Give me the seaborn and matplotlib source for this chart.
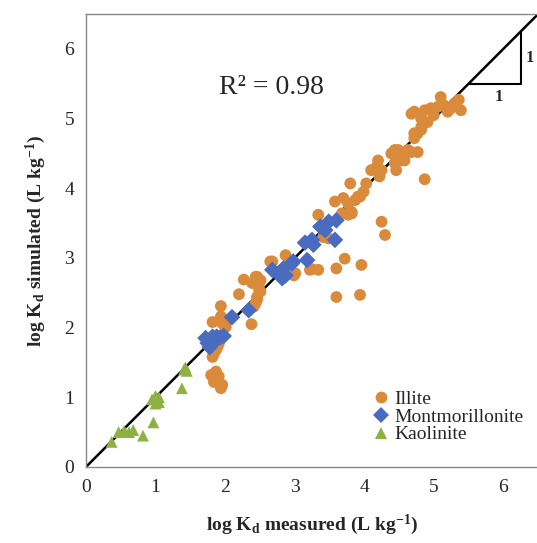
import numpy as np
import pandas as pd
import matplotlib
matplotlib.use("Agg")
import matplotlib.pyplot as plt
import seaborn as sns

# Illite (circles)
illite_x = [1.82, 1.87, 1.84, 1.94, 1.80, 1.96, 1.91, 1.82, 1.87, 1.91, 1.84, 1.89,
            1.82, 1.94, 1.94, 1.96, 2.03, 2.01, 2.20, 2.27, 2.39, 2.44, 2.51, 2.49,
            2.46, 2.44, 2.41, 2.38, 2.46, 2.49, 2.51, 2.46, 2.65, 2.87, 3.01, 2.80,
            2.68, 2.99, 3.22, 3.34, 3.25, 3.60, 3.72, 3.96, 3.60, 3.94, 3.34, 3.41,
            3.49, 3.58, 3.70, 3.77, 3.82, 3.87, 3.94, 3.99, 4.03, 3.80, 3.68, 3.77,
            3.82, 3.91, 4.10, 4.18, 4.22, 4.20, 4.25, 4.30, 4.39, 4.49, 4.58, 4.68,
            4.77, 4.46, 4.53, 4.63, 4.44, 4.87, 4.72, 4.82, 4.68, 4.82, 4.91, 4.82,
            4.77, 4.72, 4.72, 4.87, 4.96, 5.06, 5.15, 5.25, 5.39, 5.30, 5.10, 5.36,
            4.44, 4.25, 4.49, 4.58, 5.00, 5.20]
illite_y = [1.30, 1.37, 1.22, 1.13, 1.32, 1.18, 1.30, 1.58, 1.68, 1.77, 1.63, 1.72,
            2.08, 2.16, 2.31, 2.06, 2.11, 2.01, 2.48, 2.69, 2.64, 2.73, 2.68, 2.54,
            2.44, 2.35, 2.30, 2.05, 2.73, 2.64, 2.52, 2.40, 2.95, 3.04, 2.78, 2.78,
            2.95, 2.75, 2.83, 2.83, 2.84, 2.85, 2.99, 2.90, 2.44, 2.47, 3.62, 3.30,
            3.28, 3.81, 3.86, 3.78, 3.66, 3.83, 3.88, 3.95, 4.07, 4.07, 3.64, 3.62,
            3.64, 3.88, 4.26, 4.31, 4.17, 4.40, 3.52, 3.33, 4.50, 4.55, 4.48, 4.52,
            4.52, 4.26, 4.40, 4.55, 4.36, 4.13, 4.79, 4.84, 5.07, 5.00, 4.95, 4.88,
            4.79, 4.72, 5.10, 5.12, 5.15, 5.17, 5.19, 5.15, 5.12, 5.22, 5.31, 5.27,
            4.55, 4.26, 4.43, 4.40, 5.05, 5.10]

# Montmorillonite (diamonds)
mont_x = [1.72, 1.75, 1.78, 1.82, 1.88, 1.93, 1.98, 1.85, 2.10, 2.34, 2.68, 2.77,
          2.84, 2.82, 2.87, 2.96, 2.98, 3.15, 3.27, 3.18, 3.37, 3.44, 3.49, 3.60,
          3.58, 3.25]
mont_y = [1.85, 1.78, 1.72, 1.87, 1.87, 1.86, 1.88, 1.80, 2.15, 2.25, 2.83, 2.78,
          2.85, 2.71, 2.75, 2.92, 2.95, 3.22, 3.19, 2.97, 3.45, 3.40, 3.52, 3.54,
          3.26, 3.26]

# Kaolinite (triangles)
kao_x = [0.37, 0.47, 0.55, 0.62, 0.68, 0.82, 0.97, 0.95, 1.00, 1.05, 1.00, 1.05,
         1.38, 1.41, 1.45, 1.43]
kao_y = [0.36, 0.50, 0.52, 0.50, 0.53, 0.45, 0.64, 0.97, 1.02, 1.00, 0.91, 0.93,
         1.13, 1.40, 1.38, 1.43]

minerals = ["Illite", "Montmorillonite", "Kaolinite"]
colors = {"Illite": "#DA8A3B", "Montmorillonite": "#4A6CC0", "Kaolinite": "#8DB243"}
markers = {"Illite": "o", "Montmorillonite": "D", "Kaolinite": "^"}
ticks = [0, 1, 2, 3, 4, 5, 6]

df = pd.concat([
    pd.DataFrame({"x": illite_x, "y": illite_y, "mineral": "Illite"}),
    pd.DataFrame({"x": mont_x, "y": mont_y, "mineral": "Montmorillonite"}),
    pd.DataFrame({"x": kao_x, "y": kao_y, "mineral": "Kaolinite"}),
])

sns.set_style("white")
plt.rcParams["font.family"] = ["Liberation Serif", "DejaVu Serif"]
plt.rcParams["mathtext.fontset"] = "custom"
plt.rcParams["mathtext.rm"] = "Liberation Serif"
plt.rcParams["mathtext.bf"] = "Liberation Serif:bold"
plt.rcParams["mathtext.it"] = "Liberation Serif:italic"

fig = plt.figure(figsize=(5.37, 5.43), dpi=100)
ax = fig.add_axes([0.160, 0.140, 0.842, 0.834])

# 1:1 line
ax.plot([0, 6.5], [0, 6.5], color="black", lw=1.8, zorder=1)

sns.scatterplot(data=df, x="x", y="y", hue="mineral", style="mineral",
                hue_order=minerals, style_order=minerals,
                palette=colors, markers=markers, s=72, linewidth=0,
                ax=ax, zorder=2)

# slope triangle
ax.plot([5.5, 6.25, 6.25], [5.5, 5.5, 6.25], color="black", lw=1.5, zorder=1)
ax.text(5.93, 5.42, "1", ha="center", va="top", fontsize=12, fontweight="bold")
ax.text(6.32, 5.875, "1", ha="left", va="center", fontsize=12, fontweight="bold")

ax.text(2.67, 5.44, "R² = 0.98", ha="center", va="center", fontsize=20)

ax.set_xlim(0, 6.5)
ax.set_ylim(0, 6.5)
ax.set_xticks(ticks)
ax.set_yticks(ticks)
ax.tick_params(direction="inout", length=7, width=1, color="#888888",
               labelsize=14, pad=5)
for side in ["left", "bottom", "top"]:
    ax.spines[side].set_color("#888888")
    ax.spines[side].set_linewidth(1)
ax.spines["right"].set_visible(False)

ax.set_xlabel(r"log K$_{\mathbf{d}}$ measured (L kg$^{\mathbf{-1}}$)",
              fontsize=14, fontweight="bold", labelpad=12)
ax.set_ylabel(r"log K$_{\mathbf{d}}$ simulated (L kg$^{\mathbf{-1}}$)",
              fontsize=14, fontweight="bold", labelpad=12)

leg = ax.legend(loc="lower right", bbox_to_anchor=(0.985, 0.035), frameon=False,
                fontsize=14, handletextpad=0.1, labelspacing=0.0,
                borderaxespad=0, handlelength=1.2)
for h in leg.legend_handles:
    h.set_markersize(8.5)

fig.savefig("out.png", dpi=100)
